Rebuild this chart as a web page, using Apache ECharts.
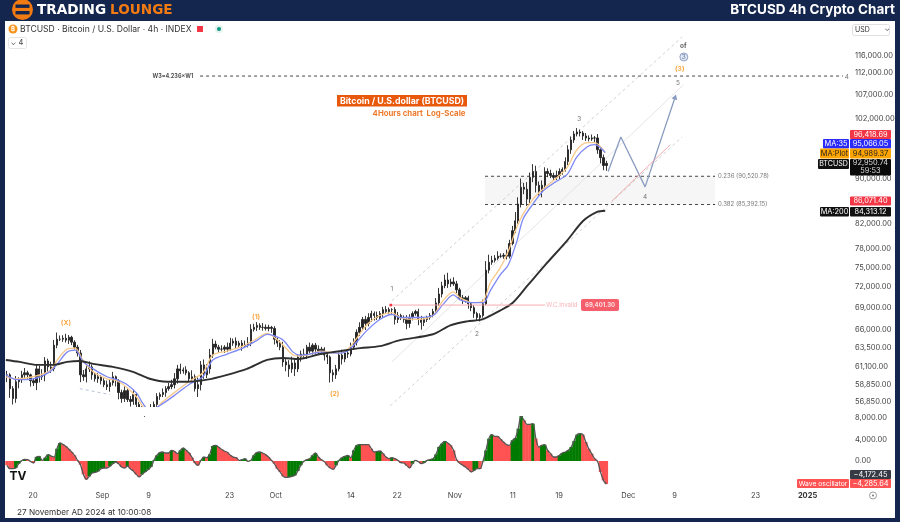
<!DOCTYPE html>
<html><head><meta charset="utf-8">
<style>html,body{margin:0;padding:0;background:#14264d}#c{width:900px;height:522px;filter:blur(.4px)}</style>
<script src="https://cdn.jsdelivr.net/npm/echarts@6/dist/echarts.min.js"></script>
</head><body><div id="c"></div>
<script>
const FONT='Inter, "Noto Sans", sans-serif';
const DAY=86400000, AUG20=Date.UTC(2024,7,20);
// candle series, one sample each 12.2 hours starting 15 Aug
const candleStart=Date.UTC(2024,7,15,12), candleStep=12.2*3600000;
const closes=[60100,58410,57230,59250,59500,60100,60350,60100,59370,59130,60840,59860,60100,61840,61090,60840,63890,64680,64680,64810,64550,64940,64290,63630,62860,60100,59860,60840,61090,60100,59610,59860,59370,58890,58650,59130,59860,59370,57940,57230,58170,57120,56890,57700,56540,56080,55850,55410,55630,56080,56540,57470,57700,57940,58410,58650,58890,59610,60840,60590,60720,60350,59610,59860,58410,58890,61340,60100,60840,62600,64030,63630,63370,63370,63630,63370,64160,64420,63890,64160,63760,63890,64160,66010,66280,66550,66280,66280,66140,66280,66140,64680,64160,63630,61720,61340,60840,61590,60840,62350,62730,62600,63630,63110,63890,63370,63110,63370,62600,62350,60350,60100,60840,62600,62090,62860,62730,63630,64290,65610,66280,67370,66820,67640,68190,67920,67640,68190,68750,68470,68750,68750,67370,67920,67640,67370,66820,67640,68190,68470,67370,66960,67370,67640,67920,68470,69710,71000,72200,73080,72500,72790,72500,71610,70450,70160,70450,69580,69030,68190,67640,67920,69580,74580,75800,76110,76430,76750,76750,76910,76750,78800,80910,82570,85480,88490,88130,86350,90310,91410,88850,87770,88850,91410,91040,90680,90310,90680,91410,91790,93300,95600,97560,98760,99170,98960,98360,97960,97760,97960,97960,95600,94060,92550,92950];
const highWicks=[500,200,300,700,300,500,600,250,150,300,600,400,700,500,300,650,700,900,500,400,600,300,200,250,300,400,600,350,700,300,250,450,200,300,500,450,600,150,200,350,500,250,400,600,200,300,250,400,300,500,350,400,250,500,300,450,600,700,500,650,300,450,200,800,300,900,500,700,600,800,700,450,300,500,250,600,700,350,500,300,400,600,800,700,500,450,300,600,400,350,200,300,250,400,700,350,600,800,500,350,450,700,300,600,250,300,500,300,250,150,200,400,500,550,700,300,450,600,500,400,700,350,500,600,400,300,550,350,400,500,300,200,350,500,250,300,600,450,300,250,400,500,300,250,350,400,700,900,600,800,1100,500,700,450,300,400,250,300,200,350,250,300,600,1400,1200,700,500,800,450,350,900,600,800,1500,1200,1600,800,1300,900,1400,1100,700,900,800,600,700,500,900,600,400,800,900,700,600,800,500,400,600,500,700,400,800,300,600,500];
const lowWicks=[900,1100,700,500,800,400,600,500,700,400,900,700,400,800,600,500,300,400,250,350,300,500,400,300,450,900,500,700,400,600,350,500,450,300,400,600,350,700,800,500,400,300,600,400,300,400,350,300,500,400,300,350,400,300,500,250,300,450,600,400,350,300,500,400,350,1000,700,500,400,600,350,300,450,300,500,400,250,350,500,300,600,250,300,400,300,500,350,450,300,400,600,700,500,400,600,800,1000,500,900,400,600,350,500,300,450,600,400,350,700,900,1200,850,500,300,700,400,500,300,350,450,500,350,900,400,600,700,350,300,500,250,400,600,700,500,350,450,800,600,400,300,800,1000,500,350,300,250,300,400,500,350,600,450,300,500,350,600,400,700,500,600,450,550,300,200,500,400,350,300,250,400,500,350,300,400,500,600,900,1200,700,900,1300,800,1100,600,700,500,600,500,800,600,400,700,800,600,500,700,800,600,500,400,900,800,1100,900,1000,1200,1600];
// oscillator, same sampling as the candles
const waveOsc=[-806,-1426,-1426,-1300,-500,60,310,250,-60,-370,740,870,120,620,1180,930,740,2290,3350,3100,2730,2230,1670,1050,120,-680,-2480,-3410,-2850,-2230,-2110,-1920,-1430,-1300,-1300,-990,-500,-190,-500,-1120,-1300,-930,-1430,-1860,-2480,-2980,-2480,-2050,-1610,-1120,120,1050,1550,1670,1490,1490,1980,1800,1360,1980,2420,1980,1490,620,-370,-810,120,740,620,1240,2790,2910,2600,2170,1860,1610,1050,740,620,120,250,430,-60,120,1050,1550,1670,1490,1180,740,120,-500,-1430,-2050,-2850,-3040,-2980,-2850,-2670,-1860,-810,-60,250,430,1050,1490,740,250,-120,-810,-1300,-1550,-810,120,620,870,1050,620,1980,2910,3040,3040,3040,3040,2290,1670,1800,1860,1360,740,430,620,430,120,-310,-370,-810,-1300,-500,120,-120,-500,-310,120,250,430,1240,2600,3220,3660,3350,2910,1980,250,-370,-740,-1120,-1550,-2050,-1740,-1430,-1430,-60,1980,4150,4900,4590,4590,4030,3530,3040,2910,3840,4280,6010,8370,7560,6820,6820,6940,4150,2600,2910,3040,1980,1360,740,740,1050,1490,1670,1980,2600,3720,4900,5080,4900,3530,2290,1360,430,-60,-2050,-3600,-4285];
// moving averages: days after 20 Aug 2024, then price
const maDays=[-4.7,-2.8,0,2.9,4.2,5.9,7.3,8.7,10.4,12.8,14.5,16.3,18,19,20.2,22.5,24.9,27.2,29.4,31.1,33.6,36.3,38.8,40.5,41.5,43.3,45,46.2,47.9,49.7,53.1,54.8,57.8,60,62.1,63.5,66.4,69.2,70.9,72.7,73.9,76.1,77.9,79.1,80.8,82.2,83.7,84.8,86.5,88.2,90.3,92.4,94.1,95.9,97.2,99];
const ma35=[60100,59500,59610,60470,61470,62980,63240,61720,60840,59860,59500,58890,57820,56660,55850,56660,57820,59010,59860,61970,62730,63500,64550,65340,65200,64550,62980,62600,62730,62980,62860,63370,65870,67370,68060,67640,67640,67920,69460,70880,70160,69740,69740,71460,73830,75350,79130,82910,85480,87770,89390,90860,94220,96200,96600,95066];
const maPlot=[59860,59610,59860,60590,61970,63370,63500,61840,60470,59610,59370,58530,57350,56310,55630,56890,58170,59370,60350,62600,63110,63760,64810,65470,65070,63890,62600,62480,62730,63110,62860,63630,66680,67920,68330,67640,67370,67920,70020,71320,70450,69740,70020,72640,74890,77510,81480,83750,86350,88130,89940,92160,95600,97000,97000,94989];
const ma200Days=[-4.7,-2.3,0.7,3.5,5.9,8.1,10.4,13.8,17.3,20.2,23.2,26.6,30.1,33.6,37,40.5,43.3,45.9,49.7,53.1,56.6,60,63.5,69.2,72.2,75.1,77.7,80.8,83,85.5,88.9,92.4,95.2,97.6,99];
const ma200=[61970,61720,61340,61340,61720,61840,61470,61090,60470,59610,59250,59250,59500,60100,60840,61970,62230,62100,62730,63110,63500,63760,64550,65340,66550,67100,67370,68610,69740,72190,75660,79270,82570,84100,84313];
// axes
const priceTicks=[116000,112000,107000,102000,90000,82000,78000,75000,72000,69000,66000,63500,61100,58850,56850];
const oscTicks=[8000,4000,0];
const timeTickDates=[[7,20],[8,1],[8,9],[8,23],[9,1],[9,14],[9,22],[10,1],[10,11],[10,19],[11,1],[11,9],[11,23]];
const timeTickTexts=['20','Sep','9','23','Oct','14','22','Nov','11','19','Dec','9','23'];
// drawn annotations: [days after 20 Aug, price]
const channelTop=[[62.1,70020],[112.3,120630]];
const channelMid=[[62.1,61720],[112.5,109270]];
const channelLow=[[61.8,56360],[112.3,98160]];
const waveForecast=[[99.5,91410],[101.7,98160],[105.9,88550],[111.1,106600]];
const pinkTrend=[[100.2,86030],[110.2,96550]];
const invalidation=[[61.9,69401],[88.6,69401]];
const targetLine=[[28.9,111300],[140.1,111300]];
const fib236=[[78.2,90520],[118,90520]];
const fib382=[[78.2,85392],[118,85392]];
const lowerTrend=[[8.1,58410],[13.3,57700]];
const waveLabels=[
 ['(X)',5.7,66820,'#f7931a'],['(1)',38.6,67780,'#f7931a'],['(2)',52.2,57820,'#f7931a'],
 ['1',62.1,71750,'#555'],['2',76.8,65340,'#555'],['3',94.5,101870,'#555'],['4',105.9,86730,'#555'],['5',111.6,109720,'#555'],
 ['(3)',111.9,112930,'#f7931a'],['of',112.5,118420,'#333'],['4',140.8,111080,'#555']
];

const T=d=>AUG20+d*DAY;
const pts=a=>a.map(p=>[T(p[0]),p[1]]);
const xMin=T(-4.844), xMax=T(141);
const yMin=56240, yMax=124680;
const times=closes.map((_,i)=>candleStart+i*candleStep);
const candleData=closes.map((c,i)=>{const o=i?closes[i-1]:c;return [o,c,Math.min(o,c)-lowWicks[i],Math.max(o,c)+highWicks[i]];});
const tickMs=timeTickDates.map(d=>Date.UTC(2024,d[0],d[1]));
const tickMsAll=tickMs.concat([Date.UTC(2025,0,1)]);
const fmtTime=v=>{const i=tickMs.indexOf(+v);return i>=0?timeTickTexts[i]:'{b|2025}';};

function seg(name,data,color,width,type,z){return {name,type:'line',data:pts(data),xAxisIndex:0,yAxisIndex:0,symbol:'none',silent:true,animation:false,z:z||3,
  lineStyle:{color,width,type:type||'solid'}};}
function badge(x,y,w,h,t,bg,fg,extra){return [{type:'rect',z:19,silent:true,shape:{x,y,width:w,height:h,r:1},style:{fill:bg}},
  {type:'text',z:20,silent:true,x:x+w/2,y:y+h/2,style:Object.assign({text:t,fill:fg,font:'7.4px '+FONT,align:'center',verticalAlign:'middle'},extra||{})}];}

const graphics=[
 {type:'rect',z:0,silent:true,shape:{x:5,y:21,width:890,height:497},style:{fill:'#fff'}},
 // pane separator keeps the clipped price candles from running into the oscillator
 {type:'rect',z:8,silent:true,shape:{x:5,y:407,width:843,height:9},style:{fill:'#fff'}},
 // logo
 {type:'circle',z:20,silent:true,shape:{cx:22.5,cy:9.5,r:10.5},style:{fill:'#f27a12'}},
 {type:'rect',z:21,silent:true,shape:{x:15.5,y:4.5,width:14,height:3.4},style:{fill:'#14264d'}},
 {type:'rect',z:21,silent:true,shape:{x:15.5,y:11,width:14,height:3.4},style:{fill:'#14264d'}},
 {type:'text',z:21,silent:true,x:37,y:10,style:{text:'TRADING',fill:'#fff',font:'bold 13.6px "DejaVu Sans"',verticalAlign:'middle'}},
 {type:'text',z:21,silent:true,x:110,y:10,style:{text:'LOUNGE',fill:'#f27a12',font:'bold 13.6px "DejaVu Sans"',verticalAlign:'middle'}},
 {type:'text',z:21,silent:true,x:895,y:10,style:{text:'BTCUSD 4h Crypto Chart',fill:'#fff',font:'bold 13.5px '+FONT,align:'right',verticalAlign:'middle'}},
 // header
 {type:'circle',z:20,silent:true,shape:{cx:13,cy:29,r:4.5},style:{fill:'#f7931a'}},
 {type:'text',z:21,silent:true,x:13,y:29,style:{text:'₿',fill:'#fff',font:'bold 6px '+FONT,align:'center',verticalAlign:'middle'}},
 {type:'text',z:21,silent:true,x:20,y:29,style:{text:'BTCUSD · Bitcoin / U.S. Dollar · 4h · INDEX',fill:'#333',font:'8.6px '+FONT,verticalAlign:'middle'}},
 {type:'rect',z:21,silent:true,shape:{x:197,y:26,width:6,height:6},style:{fill:'#f23645'}},
 {type:'circle',z:21,silent:true,shape:{cx:219,cy:29,r:4},style:{fill:'#e2f3ee'}},
 {type:'circle',z:21,silent:true,shape:{cx:219,cy:29,r:2},style:{fill:'#089981'}},
 {type:'rect',z:21,silent:true,shape:{x:8.5,y:37.5,width:18,height:11,r:2},style:{fill:'#fff',stroke:'#e5e5e5',lineWidth:1}},
 {type:'text',z:22,silent:true,x:17,y:43,style:{text:'⌄ 4',fill:'#444',font:'7.5px '+FONT,align:'center',verticalAlign:'middle'}},
 // USD box
 {type:'rect',z:21,silent:true,shape:{x:852.5,y:24.5,width:37,height:11,r:2},style:{fill:'#fff',stroke:'#e0e0e0',lineWidth:1}},
 {type:'text',z:22,silent:true,x:855,y:30,style:{text:'USD',fill:'#333',font:'7px '+FONT,verticalAlign:'middle'}},
 {type:'text',z:22,silent:true,x:890,y:29,style:{text:'⌄',fill:'#555',font:'7px '+FONT,align:'right',verticalAlign:'middle'}},
 // title box
 {type:'rect',z:21,silent:true,shape:{x:337,y:95,width:130,height:11.5},style:{fill:'#e8590c'}},
 {type:'text',z:22,silent:true,x:402,y:101,style:{text:'Bitcoin / U.S.dollar (BTCUSD)',fill:'#fff',font:'bold 8.8px '+FONT,align:'center',verticalAlign:'middle'}},
 {type:'text',z:22,silent:true,x:419,y:114,style:{text:'4Hours chart  Log-Scale',fill:'#ee7a2c',font:'bold 7.8px '+FONT,align:'center',verticalAlign:'middle'}},
 // footer
 {type:'text',z:22,silent:true,x:17,y:513,style:{text:'27 November AD 2024 at 10:00:08',fill:'#333',font:'8.2px '+FONT,verticalAlign:'middle'}},
 {type:'text',z:22,silent:true,x:18,y:476,style:{text:'TV',fill:'#111',font:'bold 12px '+FONT,align:'center',verticalAlign:'middle'}},
 {type:'circle',z:22,silent:true,shape:{cx:873,cy:495.5,r:3.5},style:{fill:'#fff',stroke:'#777',lineWidth:.7}},
 {type:'circle',z:22,silent:true,shape:{cx:873,cy:495.5,r:1},style:{fill:'#777'}},
 ...badge(850,130,41,9,'96,418.69','#f23645','#fff'),
 ...badge(823,139,26,9.5,'MA:35','#2a2afa','#fff'),
 ...badge(850,139,41,9.5,'95,066.05','#2a2afa','#fff'),
 ...badge(820,148.5,29,10,'MA:Plot','#ffa500','#222'),
 ...badge(850,148.5,41,10,'94,989.37','#ffa500','#222'),
 ...badge(818,159,31,10,'BTCUSD','#111','#fff',{font:'7.1px '+FONT}),
 ...badge(850,159,41,16.5,'92,950.74\n59:53','#0a0a0a','#ddd',{lineHeight:8}),
 ...badge(850,196.5,41,9,'86,071.40','#f23645','#fff'),
 ...badge(820,207,29,9.5,'MA:200','#111','#fff'),
 ...badge(850,207,41,9.5,'84,313.12','#111','#fff'),
 ...badge(850,470,41,9,'−4,172.45','#363a45','#fff'),
 ...badge(797,479,52,9,'Wave oscillator','#ff5252','#fff',{font:'6.8px '+FONT}),
 ...badge(850,479,41,9,'−4,285.64','#ff5252','#fff')
];

const option={
 animation:false,backgroundColor:'#14264d',
 textStyle:{fontFamily:FONT},
 grid:[{left:5,right:52,top:21,height:386},{left:5,right:52,top:410,height:80}],
 xAxis:[
  {type:'value',gridIndex:0,min:xMin,max:xMax,show:false,splitLine:{show:false}},
  {type:'value',gridIndex:1,min:xMin,max:xMax,axisLine:{show:false},axisTick:{show:false},splitLine:{show:false},
   axisLabel:{customValues:tickMsAll,formatter:fmtTime,color:'#444',fontSize:7.5,margin:2,hideOverlap:false,
     rich:{b:{fontWeight:'bold',fontSize:7.5,color:'#333'}}}}
 ],
 yAxis:[
  {type:'log',logBase:10,gridIndex:0,position:'right',min:yMin,max:yMax,axisLine:{show:false},axisTick:{show:false},splitLine:{show:false},
   axisLabel:{customValues:priceTicks,color:'#444',fontSize:7.5,margin:7,formatter:v=>Number(v).toLocaleString('en-US',{minimumFractionDigits:2,maximumFractionDigits:2})}},
  {type:'value',gridIndex:1,position:'right',min:-5394,max:9486,axisLine:{show:false},axisTick:{show:false},splitLine:{show:false},
   axisLabel:{customValues:oscTicks,color:'#444',fontSize:7.5,margin:7,formatter:v=>Number(v).toLocaleString('en-US',{minimumFractionDigits:2,maximumFractionDigits:2})}}
 ],
 graphic:graphics,
 series:[
  {name:'zone',type:'line',data:[],xAxisIndex:0,yAxisIndex:0,z:1,silent:true,
   markArea:{silent:true,itemStyle:{color:'#f6f6f6'},data:[[{xAxis:T(78.2),yAxis:90520},{xAxis:T(118),yAxis:85392}]]}},
  seg('channelTop',channelTop,'#c4c4c4',.8,[3,3]),
  seg('channelMid',channelMid,'#dedede',.8),
  seg('channelLow',channelLow,'#c4c4c4',.8,[3,3]),
  seg('lowerTrend',lowerTrend,'#9aa8c8',.7,[3,3]),
  seg('target',targetLine,'#333',.9,[3,3]),
  seg('fib236',fib236,'#333',.9,[3,3]),
  seg('fib382',fib382,'#333',.9,[3,3]),
  {name:'BTCUSD',type:'candlestick',xAxisIndex:0,yAxisIndex:0,z:4,silent:true,barWidth:1.8,
   data:candleData.map((d,i)=>[times[i],...d]),encode:{x:0,y:[1,2,3,4]},
   itemStyle:{color:'#222',color0:'#222',borderColor:'#222',borderColor0:'#222',borderWidth:.9}},
  {name:'MA Plot',type:'line',smooth:.3,symbol:'none',silent:true,z:5,xAxisIndex:0,yAxisIndex:0,data:maDays.map((d,i)=>[T(d),maPlot[i]]),lineStyle:{color:'#f9c98b',width:1.3}},
  {name:'MA 35',type:'line',smooth:.3,symbol:'none',silent:true,z:5,xAxisIndex:0,yAxisIndex:0,data:maDays.map((d,i)=>[T(d),ma35[i]]),lineStyle:{color:'#7d88f5',width:1.3}},
  {name:'MA 200',type:'line',smooth:.3,symbol:'none',silent:true,z:6,xAxisIndex:0,yAxisIndex:0,data:ma200Days.map((d,i)=>[T(d),ma200[i]]),lineStyle:{color:'#2f2f2f',width:1.9}},
  {name:'forecast',type:'line',symbol:'none',silent:true,z:7,xAxisIndex:0,yAxisIndex:0,showSymbol:true,lineStyle:{color:'#8a9cc0',width:1.3},
   data:pts(waveForecast).map((p,i)=>i===waveForecast.length-1?{value:p,symbol:'triangle',symbolSize:[6,5],symbolRotate:-18,itemStyle:{color:'#8a9cc0'}}:{value:p})},
  seg('pink',pinkTrend,'#eca3a8',.9,'solid',7),
  {name:'invalid',type:'line',silent:true,z:7,xAxisIndex:0,yAxisIndex:0,showSymbol:true,symbol:'none',lineStyle:{color:'#f7a0a6',width:.9},
   data:pts(invalidation).map((p,i)=>i===0?{value:p,symbol:'circle',symbolSize:3,itemStyle:{color:'#f23645'}}:{value:p})},
  {name:'labels',type:'scatter',silent:true,z:9,xAxisIndex:0,yAxisIndex:0,symbolSize:0,
   data:waveLabels.map(l=>({value:[T(l[1]),l[2]],label:{show:true,position:'inside',formatter:l[0],color:l[3],fontSize:l[3]==='#f7931a'?6.8:6.5,fontWeight:l[3]==='#555'?'normal':'bold'}}))
    .concat([
     {value:[T(112.6),115760],symbol:'circle',symbolSize:8,itemStyle:{color:'#dbe3f3',borderColor:'#5b6fa5',borderWidth:.8},label:{show:true,position:'inside',formatter:'3',color:'#3d5186',fontSize:6.5}},
     {value:[T(118.5),90520],label:{show:true,position:'right',distance:0,formatter:'0.236 (90,520.78)',color:'#555',fontSize:6}},
     {value:[T(118.5),85392],label:{show:true,position:'right',distance:0,formatter:'0.382 (85,392.15)',color:'#555',fontSize:6}},
     {value:[T(24.2),111300],label:{show:true,position:'inside',formatter:'W3=4.236×W1',color:'#222',fontSize:5.5,fontWeight:'bold'}},
     {value:[T(91.5),69401],label:{show:true,position:'inside',formatter:'W.C.Invalid',color:'#f6a0a6',fontSize:6}},
     {value:[T(98.1),69401],label:{show:true,position:'inside',formatter:'69,401.30',color:'#fff',fontSize:6,fontWeight:'bold',backgroundColor:'#f23645',padding:[3,4],borderRadius:2}}
    ])},
  {name:'Wave oscillator',type:'bar',xAxisIndex:1,yAxisIndex:1,silent:true,z:2,barWidth:3.4,
   data:waveOsc.map((v,i)=>({value:[times[i],v],itemStyle:{color:(i&&v>waveOsc[i-1])?'#007a00':'#ff5252'}}))},
  {name:'osc line',type:'line',xAxisIndex:1,yAxisIndex:1,silent:true,z:3,symbol:'none',smooth:.3,data:waveOsc.map((v,i)=>[times[i],v]),lineStyle:{color:'#555',width:1.3}}
 ]
};
const chart=echarts.init(document.getElementById('c'),null,{renderer:'canvas'});
chart.setOption(option);
</script></body></html>
